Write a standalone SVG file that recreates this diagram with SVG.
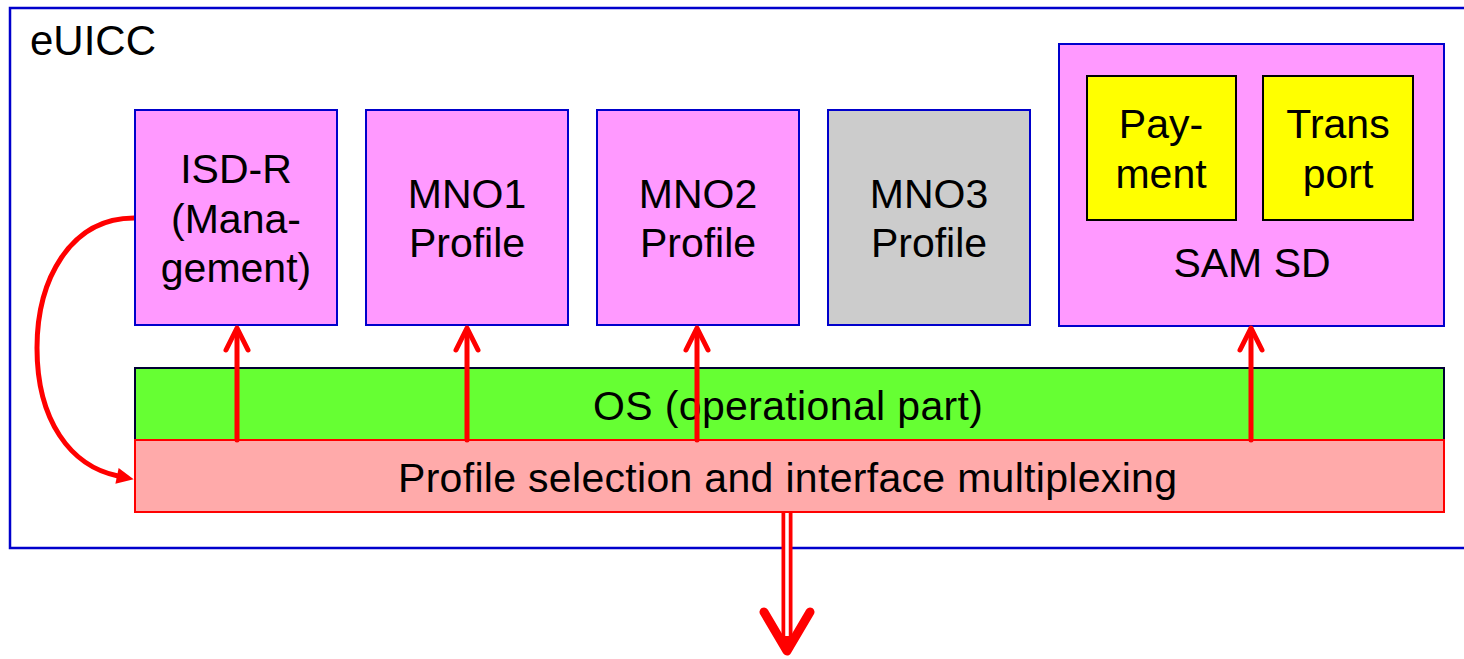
<svg xmlns="http://www.w3.org/2000/svg" width="1464" height="659" viewBox="0 0 1464 659">
  <style>
    .t { font-family: "Liberation Sans", Arial, sans-serif; font-size: 41px; fill: #000; text-anchor: middle; }
    .box { fill: #FF99FF; stroke: #0000CC; stroke-width: 2; }
    .grey { fill: #CCCCCC; stroke: #0000CC; stroke-width: 2; }
    .app { fill: #FFFF00; stroke: #000000; stroke-width: 2; }
    .conn { fill: none; stroke: #FF0000; stroke-width: 5; stroke-linecap: round; stroke-linejoin: round; }
  </style>
  <defs>
    <marker id="tri" markerUnits="userSpaceOnUse" markerWidth="20" markerHeight="20" refX="1" refY="8" orient="auto" overflow="visible">
      <path d="M0,0 L17,8 L0,16 z" fill="#FF0000"/>
    </marker>
  </defs>
  <rect width="1464" height="659" fill="#FFFFFF"/>

  <g id="euicc">
    <rect x="10" y="8" width="1470" height="540" fill="none" stroke="#0000CC" stroke-width="2.5"/>
    <text class="t" x="30" y="55" style="text-anchor:start;font-size:42px">eUICC</text>
  </g>

  <g id="isdr">
    <rect class="box" x="135" y="110" width="202" height="215"/>
    <text class="t" x="236" y="183">ISD-R</text>
    <text class="t" x="236" y="233">(Mana-</text>
    <text class="t" x="236" y="282">gement)</text>
  </g>

  <g id="mno1">
    <rect class="box" x="366" y="110" width="202" height="215"/>
    <text class="t" x="467" y="208">MNO1</text>
    <text class="t" x="467" y="257">Profile</text>
  </g>

  <g id="mno2">
    <rect class="box" x="597" y="110" width="202" height="215"/>
    <text class="t" x="698" y="208">MNO2</text>
    <text class="t" x="698" y="257">Profile</text>
  </g>

  <g id="mno3">
    <rect class="grey" x="828" y="110" width="202" height="215"/>
    <text class="t" x="929" y="208">MNO3</text>
    <text class="t" x="929" y="257">Profile</text>
  </g>

  <g id="samsd">
    <rect class="box" x="1059" y="44" width="385" height="282"/>
    <text class="t" x="1252" y="277">SAM SD</text>
  </g>

  <g id="payment">
    <rect class="app" x="1087" y="76" width="149" height="144"/>
    <text class="t" x="1161" y="138">Pay-</text>
    <text class="t" x="1161" y="188">ment</text>
  </g>

  <g id="transport">
    <rect class="app" x="1263" y="76" width="150" height="144"/>
    <text class="t" x="1338" y="138">Trans</text>
    <text class="t" x="1338" y="188">port</text>
  </g>

  <g id="os">
    <rect x="135" y="368" width="1309" height="72" fill="#66FF33" stroke="#000033" stroke-width="2"/>
    <text class="t" x="788" y="420" textLength="390" lengthAdjust="spacing">OS (operational part)</text>
  </g>

  <g id="mux">
    <rect x="135" y="440" width="1309" height="72" fill="#FFAAAA" stroke="#FF0000" stroke-width="2"/>
    <text class="t" x="787.5" y="492" textLength="779" lengthAdjust="spacing">Profile selection and interface multiplexing</text>
  </g>

  <g id="connectors">
    <line class="conn" x1="237" y1="440" x2="237" y2="330"/>
    <polyline class="conn" points="226,350 237,328 248,350"/>
    <line class="conn" x1="467" y1="440" x2="467" y2="330"/>
    <polyline class="conn" points="456,350 467,328 478,350"/>
    <line class="conn" x1="697" y1="440" x2="697" y2="330"/>
    <polyline class="conn" points="686,350 697,328 708,350"/>
    <line class="conn" x1="1251" y1="440" x2="1251" y2="330"/>
    <polyline class="conn" points="1240,350 1251,328 1262,350"/>

    <path d="M 134 218 C 70 218, 37 280, 37 348 C 37 420, 70 466, 118 476" fill="none" stroke="#FF0000" stroke-width="5" marker-end="url(#tri)"/>

    <line x1="787" y1="513" x2="787" y2="650" stroke="#FF0000" stroke-width="11"/>
    <line x1="787" y1="513" x2="787" y2="636" stroke="#FFFFFF" stroke-width="3.5"/>
    <polyline points="764,612 787,651 810,612" fill="none" stroke="#FF0000" stroke-width="9" stroke-linecap="round" stroke-linejoin="round"/>
  </g>
</svg>
